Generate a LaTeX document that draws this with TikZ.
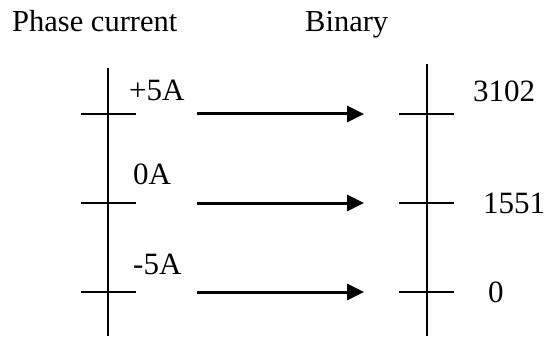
\documentclass[tikz,border=0pt]{standalone}
\usepackage{fontspec}
\setmainfont{Liberation Serif}
\usetikzlibrary{arrows.meta}

\tikzset{
  axisline/.style={line width=1.5pt},
  convarrow/.style={line width=3pt, -{Triangle[length=17pt, width=16pt]}},
  headtext/.style={anchor=base west, inner sep=0pt, font=\fontsize{30.5}{35}\selectfont},
  valtext/.style={anchor=base west, inner sep=0pt, font=\fontsize{31}{36}\selectfont}
}

\begin{document}
\begin{tikzpicture}[x=1pt, y=-1pt]
        \useasboundingbox (0,0) rectangle (544,337);
        % headings
        \node[headtext] (phase) at (12,32) {Phase current};
        \node[headtext] (binary) at (305,32) {Binary};
        % left axis (current)
        \coordinate (ltop) at (108,68);
        \coordinate (lbot) at (108,336);
        \draw[axisline] (ltop) -- (lbot);
        \draw[axisline] (81,114) -- (136,114);
        \draw[axisline] (81,203) -- (136,203);
        \draw[axisline] (81,292) -- (136,292);
        \node[valtext] (pos) at (129,100) {+5A};
        \node[valtext] (zero) at (133,184) {0A};
        \node[valtext] (neg) at (133,274) {-5A};
        % right axis (binary)
        \coordinate (rtop) at (427,64);
        \coordinate (rbot) at (427,336);
        \draw[axisline] (rtop) -- (rbot);
        \draw[axisline] (399,114) -- (454,114);
        \draw[axisline] (399,203) -- (454,203);
        \draw[axisline] (399,292) -- (454,292);
        \node[valtext] (bmax) at (473,102) {3102};
        \node[valtext] (bmid) at (483,213) {1551};
        \node[valtext] (bmin) at (488,302) {0};
        % arrows
        \coordinate (a1) at (197,114);
        \coordinate (b1) at (364,114);
        \coordinate (a2) at (197,203);
        \coordinate (b2) at (364,203);
        \coordinate (a3) at (197,292);
        \coordinate (b3) at (364,292);
        \draw[convarrow] (a1) -- (b1);
        \draw[convarrow] (a2) -- (b2);
        \draw[convarrow] (a3) -- (b3);
    \end{tikzpicture}
\end{document}
